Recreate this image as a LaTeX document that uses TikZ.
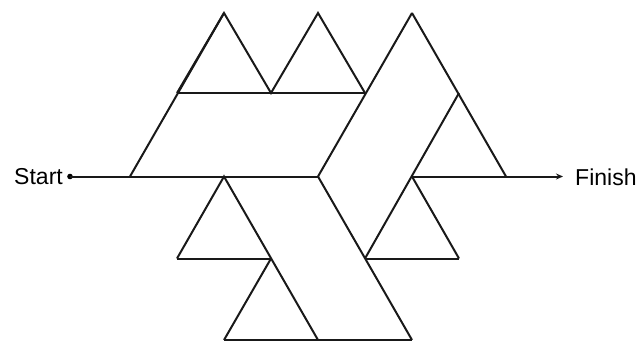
\documentclass[tikz,border=0pt]{standalone}
\usepackage{fontspec}
\setmainfont{Liberation Sans}
\usetikzlibrary{arrows.meta}
\begin{document}
\begin{tikzpicture}[x=1pt,y=-1pt,
  edge/.style={line width=2pt,draw=black!90,line join=miter,line cap=butt},
  lbl/.style={font=\fontsize{23}{26}\selectfont,inner sep=0pt,text=black}]
\useasboundingbox (0,0) rectangle (644,342);
% lattice points
\coordinate (T1) at (224,13);  \coordinate (T2) at (318,13);  \coordinate (T3) at (412,13);
\coordinate (U1) at (177,93);  \coordinate (U2) at (271,93);  \coordinate (U3) at (365,93);  \coordinate (U4) at (459,93);
\coordinate (M1) at (130,176.5); \coordinate (M2) at (224,176.5); \coordinate (M3) at (318,176.5); \coordinate (M4) at (412,176.5); \coordinate (M5) at (506,176.5);
\coordinate (L1) at (177,258.5); \coordinate (L2) at (271,258.5); \coordinate (L3) at (365,258.5); \coordinate (L4) at (459,258.5);
\coordinate (B1) at (224,340); \coordinate (B2) at (318,340); \coordinate (B3) at (412,340);
% start / finish
\coordinate (S) at (70,176.5);
\coordinate (F) at (563,176.5);
\node[lbl,anchor=east] (start) at (63,177) {Start};
\node[lbl,anchor=west] (finish) at (575,177) {Finish};
% upper part
\draw[edge] (T1) -- (M1);
\draw[edge] (U1) -- (T1) -- (U2) -- (T2) -- (U3);
\draw[edge] (U1) -- (U3);
\draw[edge] (T3) -- (M3);
\draw[edge] (T3) -- (M5);
\draw[edge] (U4) -- (L3);
\draw[edge] (M4) -- (L4);
\draw[edge] (L3) -- (L4);
% lower part
\draw[edge] (M3) -- (B3);
\draw[edge] (L1) -- (M2) -- (B2);
\draw[edge] (L1) -- (L2);
\draw[edge] (L2) -- (B1);
\draw[edge] (B1) -- (B3);
% start and finish lines
\fill[black] (S) circle (2.8);
\draw[edge] (S) -- (M3);
\draw[edge,-{Stealth[length=7pt,width=6pt]}] (M4) -- (F);
\end{tikzpicture}
\end{document}
